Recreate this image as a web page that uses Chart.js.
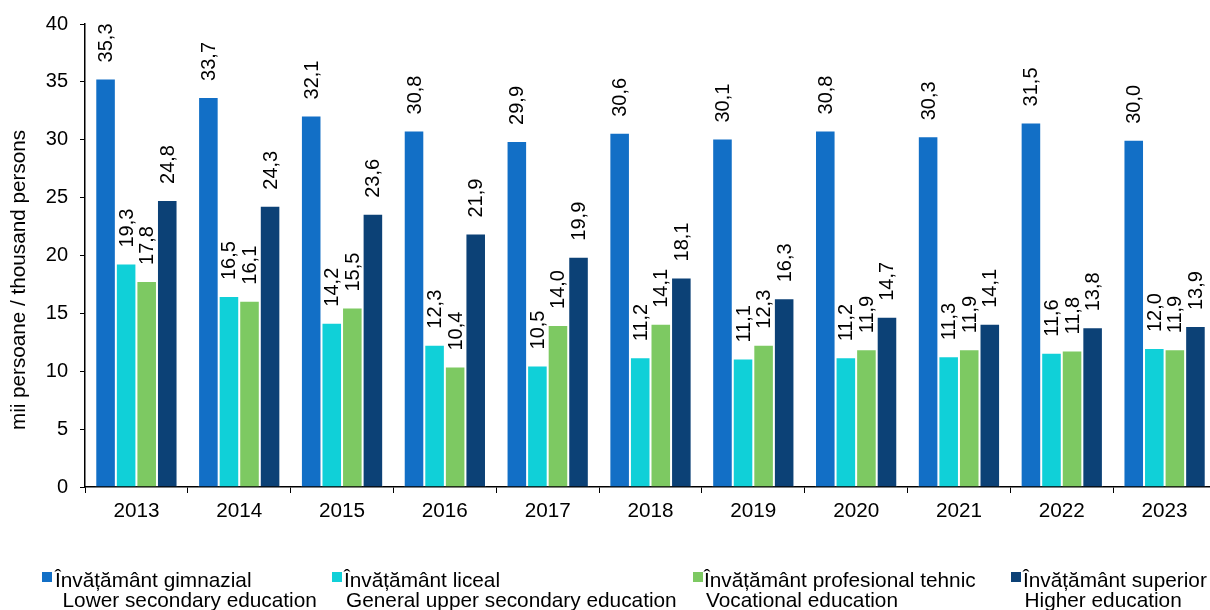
<!DOCTYPE html>
<html>
<head>
<meta charset="utf-8">
<script src="https://cdn.jsdelivr.net/npm/chart.js@4"></script>
<style>
  html, body { margin: 0; padding: 0; background: #fff; overflow: hidden; }
  #wrap { position: relative; width: 1220px; height: 610px; }
  #legend div { position: absolute; font-family: "Liberation Sans", Arial, sans-serif; font-size: 20.8px; line-height: 20px; color: #000; white-space: nowrap; }
  #legend .sq { width: 10px; height: 10px; }
</style>
</head>
<body>
<div id="wrap">
  <canvas id="c" width="1220" height="610"></canvas>
  <div id="legend"></div>
</div>
<script>
const years = ['2013','2014','2015','2016','2017','2018','2019','2020','2021','2022','2023'];
const gimnazial = [35.3, 33.7, 32.1, 30.8, 29.9, 30.6, 30.1, 30.8, 30.3, 31.5, 30.0];
const liceal = [19.3, 16.5, 14.2, 12.3, 10.5, 11.2, 11.1, 11.2, 11.3, 11.6, 12.0];
const profesional = [17.8, 16.1, 15.5, 10.4, 14.0, 14.1, 12.3, 11.9, 11.9, 11.8, 11.9];
const superior = [24.8, 24.3, 23.6, 21.9, 19.9, 18.1, 16.3, 14.7, 14.1, 13.8, 13.9];
const seriesNamesRo = ['Învățământ gimnazial', 'Învățământ liceal', 'Învățământ profesional tehnic', 'Învățământ superior'];
const seriesNamesEn = ['Lower secondary education', 'General upper secondary education', 'Vocational education', 'Higher education'];
const yTitle = 'mii persoane / thousand persons';

const colors = ['#126fc6', '#10d0d8', '#7dc962', '#0c4176'];
const FONT = '"Liberation Sans", Arial, sans-serif';

const labelPlugin = {
  id: 'valueLabels',
  afterDatasetsDraw(chart) {
    const ctx = chart.ctx;
    ctx.save();
    ctx.font = '20px ' + FONT;
    ctx.fillStyle = '#000';
    ctx.textAlign = 'left';
    ctx.textBaseline = 'middle';
    chart.data.datasets.forEach((ds, i) => {
      const meta = chart.getDatasetMeta(i);
      meta.data.forEach((bar, j) => {
        const txt = ds.data[j].toFixed(1).replace('.', ',');
        ctx.save();
        ctx.translate(bar.x + 1, bar.y - 16);
        ctx.rotate(-Math.PI / 2);
        ctx.fillText(txt, 0, 0);
        ctx.restore();
      });
    });
    // y-axis title
    ctx.font = '20.7px ' + FONT;
    ctx.textAlign = 'center';
    ctx.save();
    ctx.translate(19, 280);
    ctx.rotate(-Math.PI / 2);
    ctx.fillText(yTitle, 0, 0);
    ctx.restore();
    ctx.restore();
  }
};

const allSeries = [gimnazial, liceal, profesional, superior];

new Chart(document.getElementById('c'), {
  type: 'bar',
  data: {
    labels: years,
    datasets: allSeries.map((d, i) => ({
      label: seriesNamesRo[i],
      data: d,
      backgroundColor: colors[i],
      borderColor: 'rgba(255,255,255,0.45)',
      borderWidth: 1,
      barPercentage: 1,
      categoryPercentage: 0.8
    }))
  },
  options: {
    responsive: false,
    animation: false,
    devicePixelRatio: 1,
    layout: { padding: { top: 23, right: 4, bottom: 83, left: 0 } },
    plugins: { legend: { display: false }, tooltip: { enabled: false } },
    scales: {
      x: {
        grid: { display: true, drawOnChartArea: false, drawTicks: true, tickLength: 6, color: '#000', offset: true },
        border: { display: true, color: '#000', width: 1.5 },
        ticks: { color: '#000', font: { family: FONT, size: 20.7 }, padding: 6, maxRotation: 0 },
        afterFit(scale) { scale.height = 40; }
      },
      y: {
        min: 0, max: 40,
        grid: { display: true, drawOnChartArea: false, drawTicks: true, tickLength: 5, color: '#000' },
        border: { display: true, color: '#000', width: 1.5 },
        ticks: { stepSize: 5, color: '#000', font: { family: FONT, size: 20 }, padding: 12 },
        title: { display: false },
        afterFit(scale) { scale.width = 85; }
      }
    }
  },
  plugins: [labelPlugin]
});

// HTML legend (two-line labels)
const legendPos = [
  { sq: 42, t1: 55, t2: 62.5 },
  { sq: 332, t1: 344, t2: 346 },
  { sq: 693, t1: 704, t2: 706 },
  { sq: 1011, t1: 1023, t2: 1024.5 }
];
const leg = document.getElementById('legend');
seriesNamesRo.forEach((name, i) => {
  const p = legendPos[i];
  const sq = document.createElement('div');
  sq.className = 'sq';
  sq.style.left = p.sq + 'px'; sq.style.top = '572px'; sq.style.background = colors[i];
  leg.appendChild(sq);
  const a = document.createElement('div');
  a.textContent = name; a.style.left = p.t1 + 'px'; a.style.top = '570px';
  leg.appendChild(a);
  const b = document.createElement('div');
  b.textContent = seriesNamesEn[i]; b.style.left = p.t2 + 'px'; b.style.top = '590px';
  leg.appendChild(b);
});
</script>
</body>
</html>
